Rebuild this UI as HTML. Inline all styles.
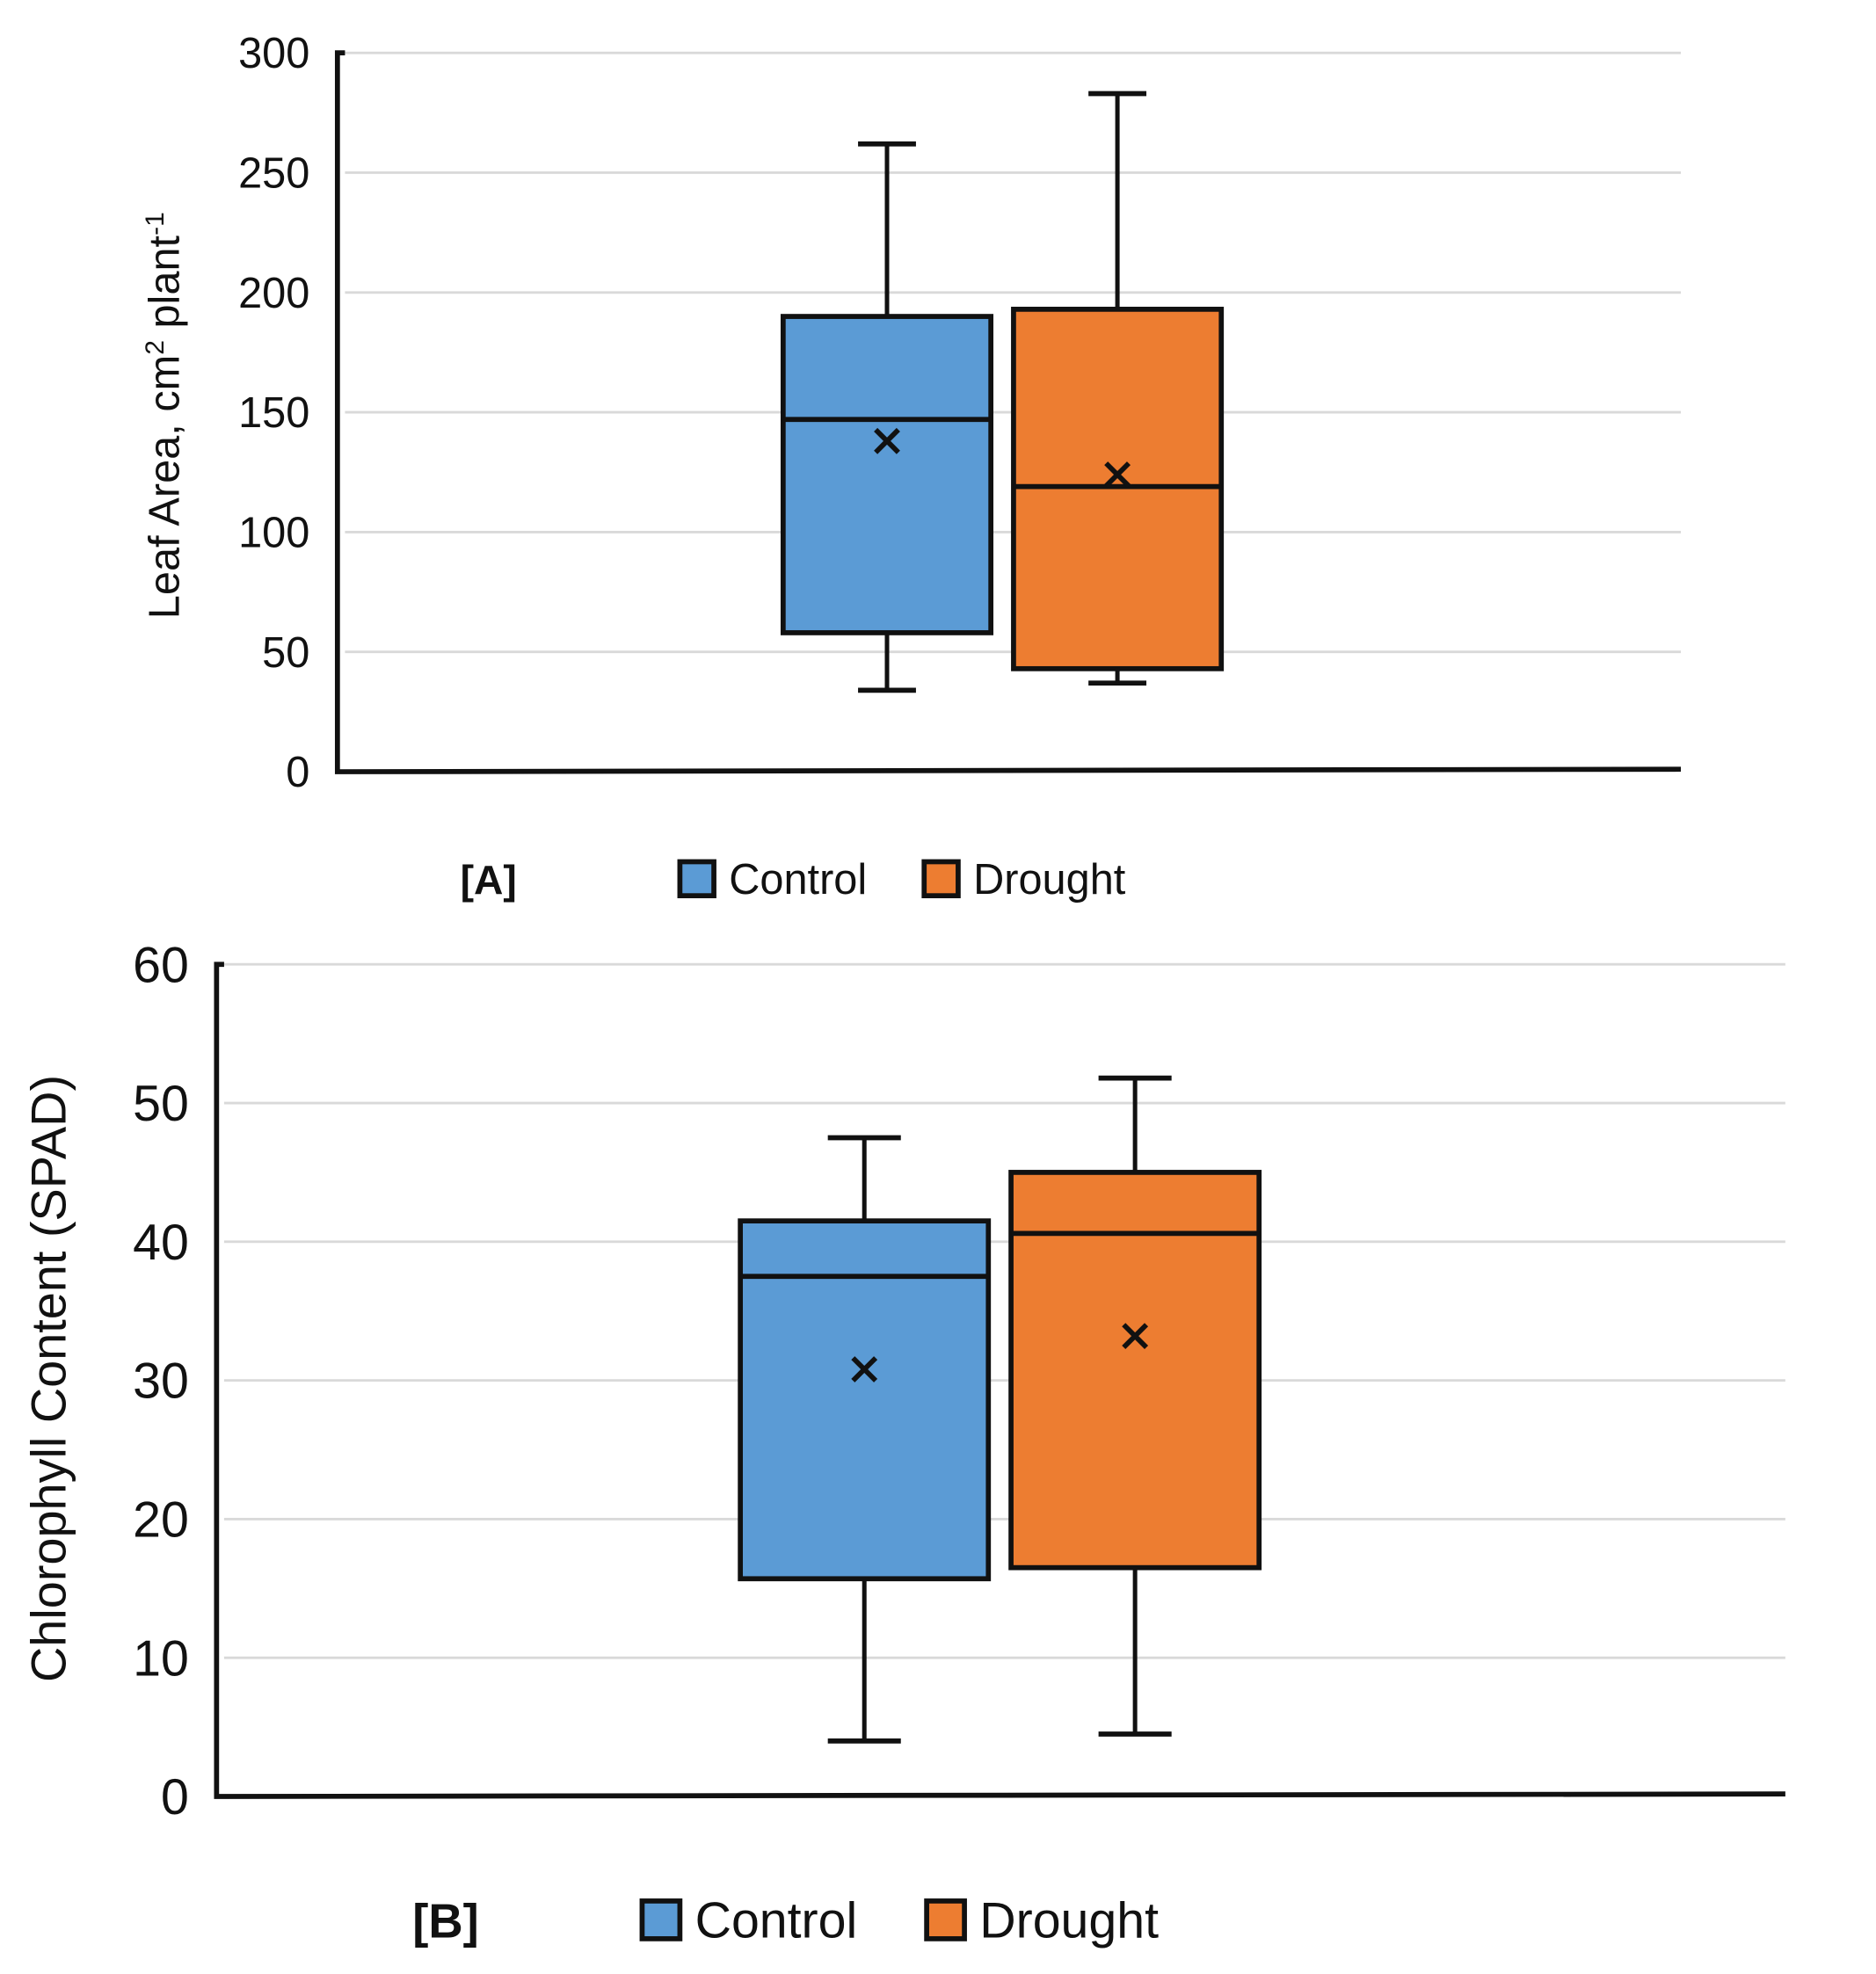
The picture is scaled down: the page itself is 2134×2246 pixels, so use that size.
<!DOCTYPE html>
<html><head><meta charset="utf-8"><style>
html,body{margin:0;padding:0;background:#fff}
svg{display:block}
text{font-family:"Liberation Sans",sans-serif;fill:#111}
</style></head><body>
<svg id="fig" width="2134" height="2246" viewBox="0 0 1490 1568" preserveAspectRatio="none" xmlns="http://www.w3.org/2000/svg">
<g id="chartA"></g>
<g id="chartB"></g>
</svg>
<script>
const groups = ["Control", "Drought"];
const colors = ["#5b9bd5", "#ed7d31"];
// Chart A: Leaf area
const aTicks = [0, 50, 100, 150, 200, 250, 300];
const aMin = [34, 37];
const aQ1 = [58, 43];
const aMedian = [147, 119];
const aQ3 = [190, 193];
const aMax = [262, 283];
const aMean = [138, 124];
// Chart B: Chlorophyll
const bTicks = [0, 10, 20, 30, 40, 50, 60];
const bMin = [4, 4.5];
const bQ1 = [15.7, 16.5];
const bMedian = [37.5, 40.6];
const bQ3 = [41.5, 45];
const bMax = [47.5, 51.8];
const bMean = [30.8, 33.2];

const NS = "http://www.w3.org/2000/svg";
function mk(parent, tag, attrs, txt){
  const e = document.createElementNS(NS, tag);
  for (const k in attrs) e.setAttribute(k, attrs[k]);
  if (txt !== undefined) e.textContent = txt;
  parent.appendChild(e); return e;
}
function draw(cfg){
  const g = document.getElementById(cfg.id);
  const vmax = cfg.ticks[cfg.ticks.length-1];
  const y = v => cfg.y0 + (cfg.y1 - cfg.y0) * v / vmax;
  cfg.ticks.forEach(t => {
    if (t > 0) {
      const l = mk(g, "line", {x1: cfg.x0+6, x2: cfg.xr, y1: y(t), y2: y(t), stroke: "#d9d9d9", "stroke-width": 2});
      
      
    }
    const tx = mk(g, "text", {x: cfg.x0-22, y: y(t)+cfg.fs*0.35, "text-anchor": "end", "font-size": cfg.fs}, t);
    
    
  });
  const ax = mk(g, "path", {d: `M${cfg.x0+6},${y(vmax)} H${cfg.x0} V${cfg.y0} L${cfg.xr},${cfg.y0-2}`, fill: "none", stroke: "#111", "stroke-width": 4});
  
  
  const yt = mk(g, "text", {transform: `translate(${cfg.tx},${cfg.ty}) rotate(-90)`, "text-anchor": "middle", "font-size": cfg.tfs}, cfg.title);
  
  
  if (cfg.sup) { yt.textContent = ""; cfg.sup(yt); }
  groups.forEach((name, i) => {
    const bx = cfg.boxX[i], bw = cfg.boxW, cx = bx + bw/2;
    const bg = mk(g, "g", {});
    
    
    mk(bg, "line", {x1: cx, x2: cx, y1: y(cfg.max[i]), y2: y(cfg.q3[i]), stroke: "#111", "stroke-width": 3.5});
    mk(bg, "line", {x1: cx, x2: cx, y1: y(cfg.q1[i]), y2: y(cfg.min[i]), stroke: "#111", "stroke-width": 3.5});
    mk(bg, "line", {x1: cx-cfg.cap, x2: cx+cfg.cap, y1: y(cfg.max[i]), y2: y(cfg.max[i]), stroke: "#111", "stroke-width": 4});
    mk(bg, "line", {x1: cx-cfg.cap, x2: cx+cfg.cap, y1: y(cfg.min[i]), y2: y(cfg.min[i]), stroke: "#111", "stroke-width": 4});
    mk(bg, "rect", {x: bx, y: y(cfg.q3[i]), width: bw, height: y(cfg.q1[i]) - y(cfg.q3[i]), fill: colors[i], stroke: "#111", "stroke-width": 4});
    mk(bg, "line", {x1: bx, x2: bx+bw, y1: y(cfg.med[i]), y2: y(cfg.med[i]), stroke: "#111", "stroke-width": 4});
    const m = y(cfg.mean[i]), s = 9;
    mk(bg, "path", {d: `M${cx-s},${m-s} L${cx+s},${m+s} M${cx+s},${m-s} L${cx-s},${m+s}`, stroke: "#111", "stroke-width": 4});
  });
  const lab = mk(g, "text", {x: cfg.labX, y: cfg.legY + cfg.lfs*0.35, "font-size": cfg.lfs*0.95, "font-weight": "bold", "text-anchor": "middle"}, cfg.label);
  
  
  groups.forEach((name, i) => {
    const lg = mk(g, "g", {});
    
    
    const sq = cfg.sq;
    mk(lg, "rect", {x: cfg.legX[i], y: cfg.legY - sq/2, width: sq, height: sq, fill: colors[i], stroke: "#111", "stroke-width": 4});
    mk(lg, "text", {x: cfg.legX[i] + sq + 12, y: cfg.legY + cfg.lfs*0.35, "font-size": cfg.lfs}, name);
  });
}
draw({id: "chartA", ticks: aTicks, y0: 613, y1: 42, x0: 268, xr: 1335, fs: 34, tfs: 34,
  title: "", tx: 142, ty: 330,
  sup: t => { t.innerHTML = 'Leaf Area, cm<tspan dy="-12" font-size="21">2</tspan><tspan dy="12"> plant</tspan><tspan dy="-12" font-size="21">-1</tspan>'; },
  boxX: [622, 805], boxW: 165, cap: 23,
  min: aMin, q1: aQ1, med: aMedian, q3: aQ3, max: aMax, mean: aMean,
  label: "[A]", labX: 388, legY: 698, legX: [540, 734], sq: 27, lfs: 34});
draw({id: "chartB", ticks: bTicks, y0: 1427, y1: 766, x0: 172, xr: 1418, fs: 40, tfs: 39,
  title: "Chlorophyll Content  (SPAD)", tx: 52, ty: 1095,
  boxX: [588, 803], boxW: 197, cap: 29,
  min: bMin, q1: bQ1, med: bMedian, q3: bQ3, max: bMax, mean: bMean,
  label: "[B]", labX: 354, legY: 1525, legX: [510, 736], sq: 30, lfs: 40});
</script>
</body></html>
